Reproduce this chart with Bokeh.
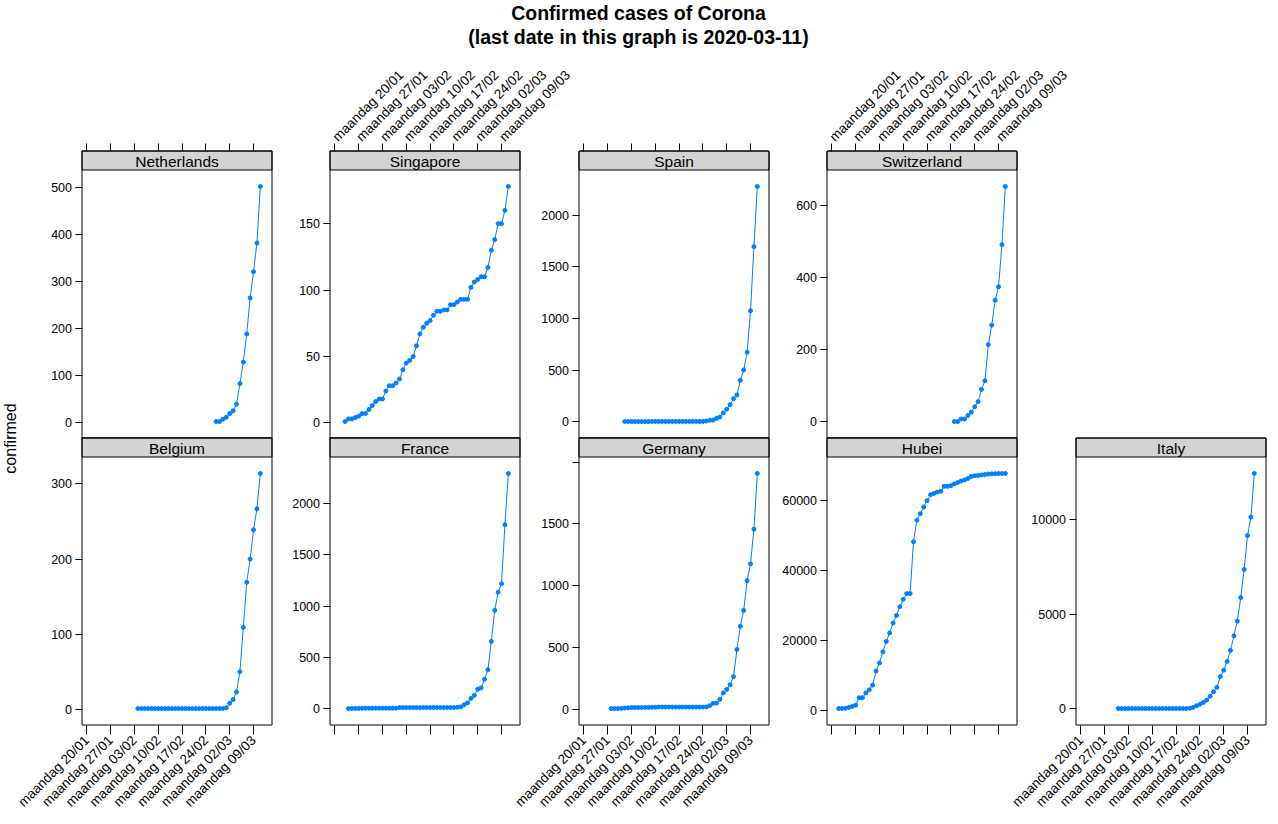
import math
import pandas as pd
from bokeh.plotting import figure
from bokeh.models import Range1d, LinearAxis, FixedTicker, Label
from bokeh.embed import file_html
from bokeh.resources import INLINE

# ---------------- data ----------------
first_date = "2020-01-22"
last_date = "2020-03-11"

countries = ["Netherlands", "Singapore", "Spain", "Switzerland",
             "Belgium", "France", "Germany", "Hubei", "Italy"]

start_dates = ["2020-02-27", "2020-01-23", "2020-02-01", "2020-02-25",
               "2020-02-04", "2020-01-24", "2020-01-28", "2020-01-22", "2020-01-31"]

netherlands = [1, 1, 6, 10, 18, 24, 38, 82, 128, 188, 265, 321, 382, 503]
singapore = [1, 3, 3, 4, 5, 7, 7, 10, 13,
             16, 18, 18, 24, 28, 28, 30, 33, 40, 45, 47, 50, 58, 67, 72, 75, 77, 81, 84, 84,
             85, 85, 89, 89, 91, 93, 93, 93, 102,
             106, 108, 110, 110, 117, 130, 138, 150, 150, 160, 178]
spain = [1] * 8 + [2] * 16 + [6, 13, 15, 32, 45,
         84, 120, 165, 222, 259, 400, 500, 673, 1073, 1695, 2277]
switzerland = [1, 1, 8, 8, 18, 27, 42, 56, 90, 114, 214, 268, 337, 374, 491, 652]
belgium = [1] * 26 + [2, 8, 13, 23, 50, 109, 169, 200, 239, 267, 314]
france = [2, 3, 3, 3, 4, 5, 5, 5] + [6] * 7 + [11] * 7 + [12] * 10 + [14, 18, 38, 57, 100,
          130, 191, 204, 288, 380, 656, 959, 1136, 1219, 1794, 2293]
germany = [4, 4, 4, 5, 8, 10, 12, 12, 12, 12, 13, 13, 14, 14, 16] + [16] * 13 + [17, 27, 46, 48, 79,
           130, 159, 196, 262, 482, 670, 799, 1040, 1176, 1457, 1908]
hubei = [444, 444, 549, 761, 1058, 1423, 3554, 3554, 4903, 5806,
         7153, 11177, 13522, 16678, 19665, 22112, 24953, 27100, 29631, 31728, 33366, 33366,
         48206, 54406, 56249, 58182, 59989, 61682, 62031, 62442, 62662, 64084, 64084, 64287,
         64786, 65187, 65596, 65914, 66337,
         66907, 67103, 67217, 67332, 67466, 67592, 67666, 67707, 67743, 67760, 67773]
italy = [2] * 7 + [3] * 14 + [20, 62, 155, 229, 322, 453, 655, 888, 1128,
         1694, 2036, 2502, 3089, 3858, 4636, 5883, 7375, 9172, 10149, 12462]

series = [netherlands, singapore, spain, switzerland, belgium, france, germany, hubei, italy]

y_ticks = [[0, 100, 200, 300, 400, 500],
           [0, 50, 100, 150],
           [0, 500, 1000, 1500, 2000],
           [0, 200, 400, 600],
           [0, 100, 200, 300],
           [0, 500, 1000, 1500, 2000],
           [0, 500, 1000, 1500, 2000],
           [0, 20000, 40000, 60000],
           [0, 5000, 10000]]
y_hidden_labels = [[], [], [], [], [], [], [2000], [], []]

tick_dates = ["2020-01-20", "2020-01-27", "2020-02-03", "2020-02-10",
              "2020-02-17", "2020-02-24", "2020-03-02", "2020-03-09"]
tick_labels = ["maandag 20/01", "maandag 27/01", "maandag 03/02", "maandag 10/02",
               "maandag 17/02", "maandag 24/02", "maandag 02/03", "maandag 09/03"]

title_lines = ["Confirmed cases of Corona", "(last date in this graph is 2020-03-11)"]
y_label = "confirmed"

# ---------------- layout / style ----------------
FONT = "Liberation Sans"
BLUE = "#0080ff"
STRIP = "#d3d3d3"
W, H = 1278, 824
col_left = [81.5, 329.5, 578.5, 826.5, 1075.5]
pw = 190.0
row_top = [150.5, 437.5]
strip_h = 19.0
row_bot = [437.5, 724.5]
cells = [(0, 0), (1, 0), (2, 0), (3, 0), (0, 1), (1, 1), (2, 1), (3, 1), (4, 1)]
x_label_cells = {(1, 0), (3, 0), (0, 1), (2, 1), (4, 1)}
DAY = 86400000


def ms(d):
    return int(pd.Timestamp(d).value // 10**6)


t0, t1 = ms(first_date), ms(last_date)
xspan = t1 - t0
xlo, xhi = t0 - 0.07 * xspan, t1 + 0.07 * xspan
tick_ms = [ms(d) for d in tick_dates]

p = figure(width=W, height=H, x_range=Range1d(0, W), y_range=Range1d(0, H),
           x_axis_type=None, y_axis_type=None, toolbar_location=None,
           output_backend="svg", min_border=0, outline_line_color=None,
           background_fill_color="white", border_fill_color="white")

extra_x = {}
for col in range(5):
    L = col_left[col]
    per = (xhi - xlo) / pw
    extra_x[f"x{col}"] = Range1d(xlo - L * per, xhi + (W - L - pw) * per)

extra_y = {}
for i, name in enumerate(countries):
    col, row = cells[i]
    vals = series[i]
    L = col_left[col]
    xn, yn = f"x{col}", f"y{i}"
    vmin, vmax = min(vals), max(vals)
    ylo = vmin - 0.07 * (vmax - vmin)
    yhi = vmax + 0.07 * (vmax - vmin)
    yb = H - row_bot[row]
    yt = H - (row_top[row] + strip_h)
    per = (yhi - ylo) / (yt - yb)
    extra_y[yn] = Range1d(ylo - yb * per, yhi + (H - yt) * per)
    y_strip_top = yhi + strip_h * per

    # strip
    p.quad(left=[L], right=[L + pw], bottom=[H - row_top[row] - strip_h], top=[H - row_top[row]],
           fill_color=STRIP, line_color="black", line_width=1)
    p.add_layout(Label(x=L + pw / 2, y=H - row_top[row] - strip_h / 2 - 0.5, text=name,
                       text_align="center", text_baseline="middle", text_font=FONT,
                       text_font_size="15.5px", text_color="black"))

    # data
    start = ms(start_dates[i])
    xs = [start + d * DAY for d in range(len(vals))]
    p.line(xs, vals, line_color=BLUE, line_width=1, x_range_name=xn, y_range_name=yn)
    p.scatter(xs, vals, size=4, color=BLUE, x_range_name=xn, y_range_name=yn)

    # panel box
    p.quad(left=[L], right=[L + pw], bottom=[H - row_bot[row]], top=[H - row_top[row]],
           fill_color=None, line_color="black", line_width=1)

    # y axis
    yax = LinearAxis(x_range_name=xn, y_range_name=yn, fixed_location=xlo,
                     ticker=FixedTicker(ticks=y_ticks[i], minor_ticks=[]),
                     axis_line_color=None, major_tick_out=7, major_tick_in=0,
                     minor_tick_out=0, minor_tick_in=0, major_label_standoff=3,
                     major_label_text_font=FONT, major_label_text_font_size="12.5px",
                     major_label_text_color="black", major_tick_line_color="black",
                     major_label_overrides={v: "" for v in y_hidden_labels[i]})
    p.add_layout(yax, "left")

    # x axis
    show = (col, row) in x_label_cells
    overrides = {t: (lab if show else "") for t, lab in zip(tick_ms, tick_labels)}
    xax = LinearAxis(x_range_name=xn, y_range_name=yn,
                     fixed_location=(y_strip_top if row == 0 else ylo),
                     ticker=FixedTicker(ticks=tick_ms, minor_ticks=[]),
                     axis_line_color=None, major_tick_out=(8 if row == 0 else 9),
                     major_tick_in=0, minor_tick_out=0, minor_tick_in=0,
                     major_label_standoff=4, major_label_orientation=math.pi / 4,
                     major_label_text_font=FONT, major_label_text_font_size="13.5px",
                     major_label_text_color="black", major_tick_line_color="black",
                     major_label_overrides=overrides)
    p.add_layout(xax, "above" if row == 0 else "below")

p.extra_x_ranges = extra_x
p.extra_y_ranges = extra_y

# y label and title
p.add_layout(Label(x=10, y=H - 438, text=y_label, angle=math.pi / 2, text_align="center",
                   text_baseline="middle", text_font=FONT, text_font_size="16px",
                   text_color="black"))
p.add_layout(Label(x=638, y=H - 12, text=title_lines[0], text_align="center",
                   text_baseline="alphabetic", text_font=FONT, text_font_size="19.5px",
                   text_font_style="bold", text_color="black"))
p.add_layout(Label(x=638, y=H - 36, text=title_lines[1], text_align="center",
                   text_baseline="alphabetic", text_font=FONT, text_font_size="19.5px",
                   text_font_style="bold", text_color="black"))

open("out.html", "w").write(file_html(p, INLINE))
